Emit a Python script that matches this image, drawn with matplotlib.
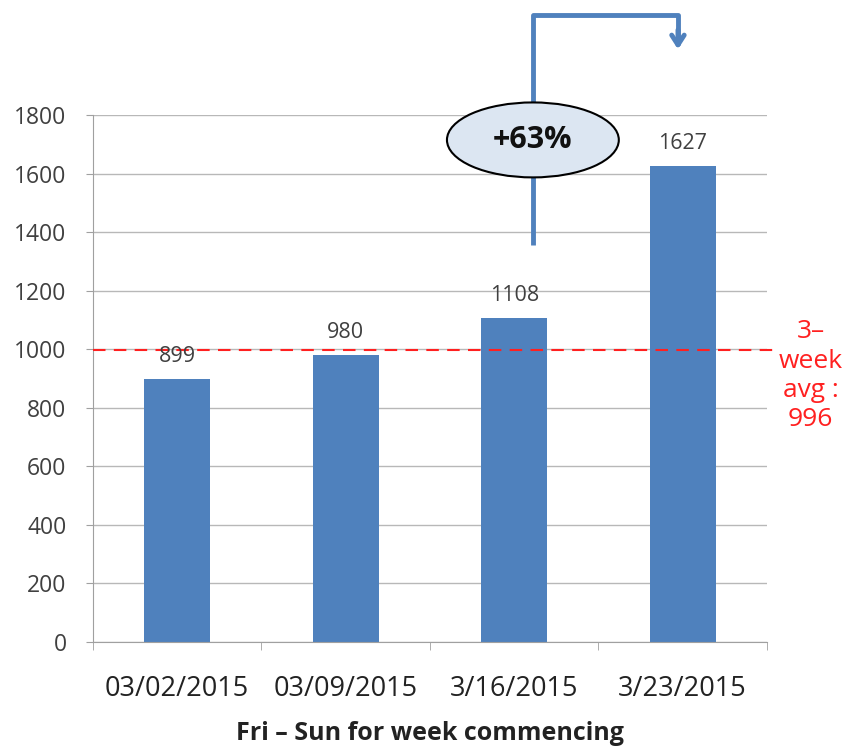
import matplotlib.pyplot as plt
from matplotlib.patches import Ellipse

# Haftalık ziyaret sayıları (Cuma - Pazar)
haftalar = ["03/02/2015", "03/09/2015", "3/16/2015", "3/23/2015"]
degerler = [899, 980, 1108, 1627]
ortalama = 996
artis_etiketi = "+63%"
ortalama_etiketi = "3–\nweek\navg :\n996"

mavi = "#4f81bd"
gri = "#404040"

fig = plt.figure(figsize=(8.45, 7.46), dpi=100)
ax = fig.add_axes([0.110, 0.1394, 0.7976, 0.7064])

x = list(range(len(haftalar)))
ax.bar(x, degerler, width=0.39, color=mavi, zorder=2)

# Çubukların üstündeki değer etiketleri
for xi, v in zip(x, degerler):
    ax.text(xi, v + 40, str(v), ha="center", va="bottom", fontsize=15.5,
            color=gri, family="Open Sans", zorder=4)

# 3 haftalık ortalama çizgisi
ax.plot([-0.5, 3.55], [ortalama, ortalama], color="#ff2020", ls="--",
        lw=1.5, dashes=(6, 4), clip_on=False, zorder=3)
ax.text(3.76, 910, ortalama_etiketi, ha="center", va="center",
        color="#ff2020", fontsize=19, family="Open Sans", linespacing=1.22)

ax.set_xlim(-0.5, 3.5)
ax.set_ylim(0, 1800)
ax.set_yticks(range(0, 1801, 200))
ax.set_xticks(x)
ax.set_xticklabels(haftalar, fontsize=19.5, family="Open Sans", color="#222222")
ax.set_xticks([-0.5, 0.5, 1.5, 2.5, 3.5], minor=True)
ax.tick_params(axis="x", which="major", length=0, pad=24)
ax.tick_params(axis="x", which="minor", length=6, color="#a0a0a0")
ax.tick_params(axis="y", length=5, color="#a0a0a0", labelsize=16.5,
               labelcolor=gri, pad=14)
for lab in ax.get_yticklabels():
    lab.set_family("Open Sans")

ax.grid(axis="y", color="#b8b8b8", lw=1, zorder=0)
for s in ["top", "right"]:
    ax.spines[s].set_visible(False)
for s in ["left", "bottom"]:
    ax.spines[s].set_color("#a0a0a0")

ax.set_xlabel("Fri – Sun for week commencing", fontsize=18,
              fontweight="bold", family="Open Sans", labelpad=13,
              color="#222222")

# Artış oku
ax.plot([2.111, 2.111, 2.972, 2.972], [1356, 2141, 2141, 2040], color=mavi,
        lw=3.5, clip_on=False, zorder=5, solid_capstyle="butt")
ax.annotate("", xy=(2.972, 2015), xytext=(2.972, 2100),
            arrowprops=dict(arrowstyle="->,head_length=0.7,head_width=0.45",
                            color=mavi, lw=3.5),
            annotation_clip=False, zorder=5)

elips = Ellipse((2.111, 1715), 1.02, 256, facecolor="#dce6f2",
                edgecolor="black", lw=1.5, clip_on=False, zorder=6)
ax.add_patch(elips)
ax.text(2.111, 1715, artis_etiketi, ha="center", va="center", fontsize=22,
        fontweight="bold", family="Open Sans", color="#111111", zorder=7)

fig.savefig("out.png", dpi=100)
